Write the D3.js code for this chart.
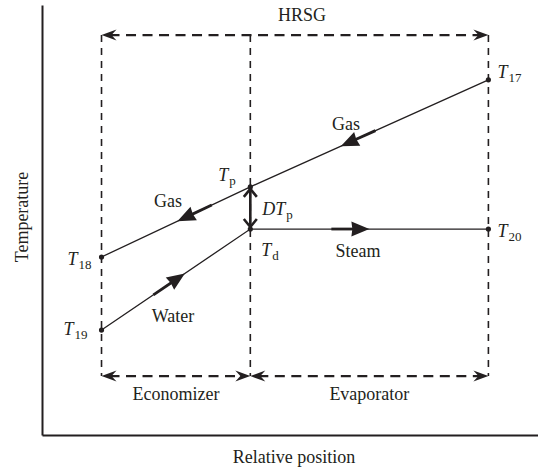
<!DOCTYPE html>
<html>
<head>
<meta charset="utf-8">
<script src="https://cdn.jsdelivr.net/npm/d3@7"></script>
<style>
  body { margin: 0; background: #fff; }
  text { font-family: 'Liberation Serif', 'DejaVu Serif', 'Times New Roman', serif; fill: #231f20; }
</style>
</head>
<body>
<div id="graph"></div>
<script>
// HRSG boundaries on the relative position axis (0..100)
const sections = ['Economizer', 'Evaporator'],
      boundaries = [12, 42, 90]

// temperatures (0..100) at each boundary, left to right
const gasTemps = [41.4, 57.7, 82.6],
      waterTemps = [24.4, 47.9, 47.9],
      gasSubs = ['18', 'p', '17'],
      waterSubs = ['19', 'd', '20']

// flow segments: [from, to] indexes into the boundaries, and the stream
const flows = [
  { name: 'Gas', stream: 'gas', from: 2, to: 1 },
  { name: 'Gas', stream: 'gas', from: 1, to: 0 },
  { name: 'Water', stream: 'water', from: 0, to: 1 },
  { name: 'Steam', stream: 'water', from: 1, to: 2 }
]

const boxTemps = [13.7, 93]

const SIZE = Object.freeze({ WIDTH: 538, HEIGHT: 470 }),
      INK = '#231f20',
      FONT = 18

const xScale = d3.scaleLinear().domain([0, 100]).range([42, 538]),
      yScale = d3.scaleLinear().domain([0, 100]).range([435, 5])

const temps = { gas: gasTemps, water: waterTemps }

const svg = d3.select('#graph')
  .append('svg')
  .attr('width', SIZE.WIDTH)
  .attr('height', SIZE.HEIGHT)

// axes (no ticks)
svg.append('g')
  .attr('transform', `translate(${xScale(0)},0)`)
  .call(d3.axisLeft(yScale).ticks(0).tickSizeOuter(0))
  .select('.domain').attr('stroke', INK).attr('stroke-width', 2)
svg.append('g')
  .attr('transform', `translate(0,${yScale(0)})`)
  .call(d3.axisBottom(xScale).ticks(0).tickSizeOuter(0))
  .select('.domain').attr('stroke', INK).attr('stroke-width', 2)

svg.append('text')
  .attr('transform', `translate(28,${217}) rotate(-90)`)
  .attr('text-anchor', 'middle')
  .style('font-size', FONT + 'px')
  .text('Temperature')
svg.append('text')
  .attr('x', 294)
  .attr('y', 463)
  .attr('text-anchor', 'middle')
  .style('font-size', FONT + 'px')
  .text('Relative position')

// arrowhead helper: tip at (x, y), pointing along angle
const headPath = (x, y, angle, len, half, notch) => {
  const c = Math.cos(angle), s = Math.sin(angle)
  const pt = (u, v) => [x + u * c - v * s, y + u * s + v * c]
  const p = [pt(0, 0), pt(-len, -half), pt(-len + notch, 0), pt(-len, half)]
  return 'M' + p.map(d => d.join(',')).join('L') + 'Z'
}

const drawHead = (x, y, angle, len = 15, half = 5.5, notch = 5) => {
  svg.append('path')
    .attr('d', headPath(x, y, angle, len, half, notch))
    .attr('fill', INK)
}

// dashed HRSG box
const bx = boundaries.map(xScale),
      yBottom = yScale(boxTemps[0]),
      yTop = yScale(boxTemps[1])

bx.forEach(x => {
  svg.append('line')
    .attr('x1', x).attr('x2', x)
    .attr('y1', yTop).attr('y2', yBottom)
    .attr('stroke', INK)
    .attr('stroke-width', 1.6)
    .attr('stroke-dasharray', '7,6')
})

const dashedArrow = (x1, x2, y) => {
  svg.append('line')
    .attr('x1', x1 + 8).attr('x2', x2 - 8)
    .attr('y1', y).attr('y2', y)
    .attr('stroke', INK)
    .attr('stroke-width', 2.4)
    .attr('stroke-dasharray', '10,6.5')
  drawHead(x1, y, Math.PI)
  drawHead(x2, y, 0)
}

dashedArrow(bx[0], bx[2], yTop)
svg.append('text')
  .attr('x', (bx[0] + bx[2]) / 2 + 7)
  .attr('y', 21)
  .attr('text-anchor', 'middle')
  .style('font-size', FONT + 'px')
  .text('HRSG')

sections.forEach((name, i) => {
  dashedArrow(bx[i], bx[i + 1], yBottom)
  svg.append('text')
    .attr('x', (bx[i] + bx[i + 1]) / 2)
    .attr('y', 400)
    .attr('text-anchor', 'middle')
    .style('font-size', FONT + 'px')
    .text(name)
})

// temperature lines
const line = d3.line()
  .x((d, i) => xScale(boundaries[i]))
  .y(d => yScale(d))

svg.append('path')
  .attr('d', line(gasTemps))
  .attr('fill', 'none')
  .attr('stroke', INK)
  .attr('stroke-width', 1.3)
svg.append('path')
  .attr('d', line(waterTemps))
  .attr('fill', 'none')
  .attr('stroke', INK)
  .attr('stroke-width', 1.3)

// flow direction arrows along each segment
const arrowAt = [0.62, 0.49, 0.56, 0.5]
flows.forEach((f, i) => {
  const t = temps[f.stream],
        x1 = xScale(boundaries[f.from]), y1 = yScale(t[f.from]),
        x2 = xScale(boundaries[f.to]), y2 = yScale(t[f.to]),
        k = arrowAt[i],
        tx = x1 + (x2 - x1) * k, ty = y1 + (y2 - y1) * k,
        angle = Math.atan2(y2 - y1, x2 - x1)
  svg.append('line')
    .attr('x1', tx - Math.cos(angle) * 38).attr('y1', ty - Math.sin(angle) * 38)
    .attr('x2', tx - Math.cos(angle) * 12).attr('y2', ty - Math.sin(angle) * 12)
    .attr('stroke', INK)
    .attr('stroke-width', 2.8)
  drawHead(tx, ty, angle, 18, 7.5, 1)
})

// end points
const points = []
boundaries.forEach((b, i) => {
  points.push({ x: b, t: gasTemps[i] })
  points.push({ x: b, t: waterTemps[i] })
})
svg.selectAll('circle.pt')
  .data(points)
  .enter()
  .append('circle')
  .attr('class', 'pt')
  .attr('cx', d => xScale(d.x))
  .attr('cy', d => yScale(d.t))
  .attr('r', 2.6)
  .attr('fill', INK)

// pinch difference arrow
const px = xScale(boundaries[1]),
      pTop = yScale(gasTemps[1]), pBot = yScale(waterTemps[1])
svg.append('line')
  .attr('x1', px).attr('x2', px)
  .attr('y1', pTop + 2).attr('y2', pBot - 2)
  .attr('stroke', INK)
  .attr('stroke-width', 2.6)
svg.append('path')
  .attr('d', `M${px - 6.5},${pTop + 10}L${px},${pTop + 2}L${px + 6.5},${pTop + 10}M${px - 6.5},${pBot - 10}L${px},${pBot - 2}L${px + 6.5},${pBot - 10}`)
  .attr('fill', 'none')
  .attr('stroke', INK)
  .attr('stroke-width', 2.6)

// labels
const tLabel = (x, y, main, sub) => {
  const txt = svg.append('text')
    .attr('x', x)
    .attr('y', y)
    .style('font-size', '18px')
  txt.append('tspan').style('font-style', 'italic').text(main)
  txt.append('tspan')
    .attr('dy', 4)
    .attr('dx', 1)
    .style('font-size', '13px')
    .text(sub)
}

const gasOff = [[-34, 8], [-32, -6], [9, -2]],
      waterOff = [[-38, 5], [11, 27], [9, 8]]
boundaries.forEach((b, i) => {
  tLabel(xScale(b) + gasOff[i][0], yScale(gasTemps[i]) + gasOff[i][1], 'T', gasSubs[i])
  tLabel(xScale(b) + waterOff[i][0], yScale(waterTemps[i]) + waterOff[i][1], 'T', waterSubs[i])
})
tLabel(px + 12, pTop + 28, 'DT', 'p')

const flowLabelPos = [[346, 130], [168, 207], [173, 322], [358, 257]]
flows.forEach((f, i) => {
  svg.append('text')
    .attr('x', flowLabelPos[i][0])
    .attr('y', flowLabelPos[i][1])
    .attr('text-anchor', 'middle')
    .style('font-size', FONT + 'px')
    .text(f.name)
})
</script>
</body>
</html>
